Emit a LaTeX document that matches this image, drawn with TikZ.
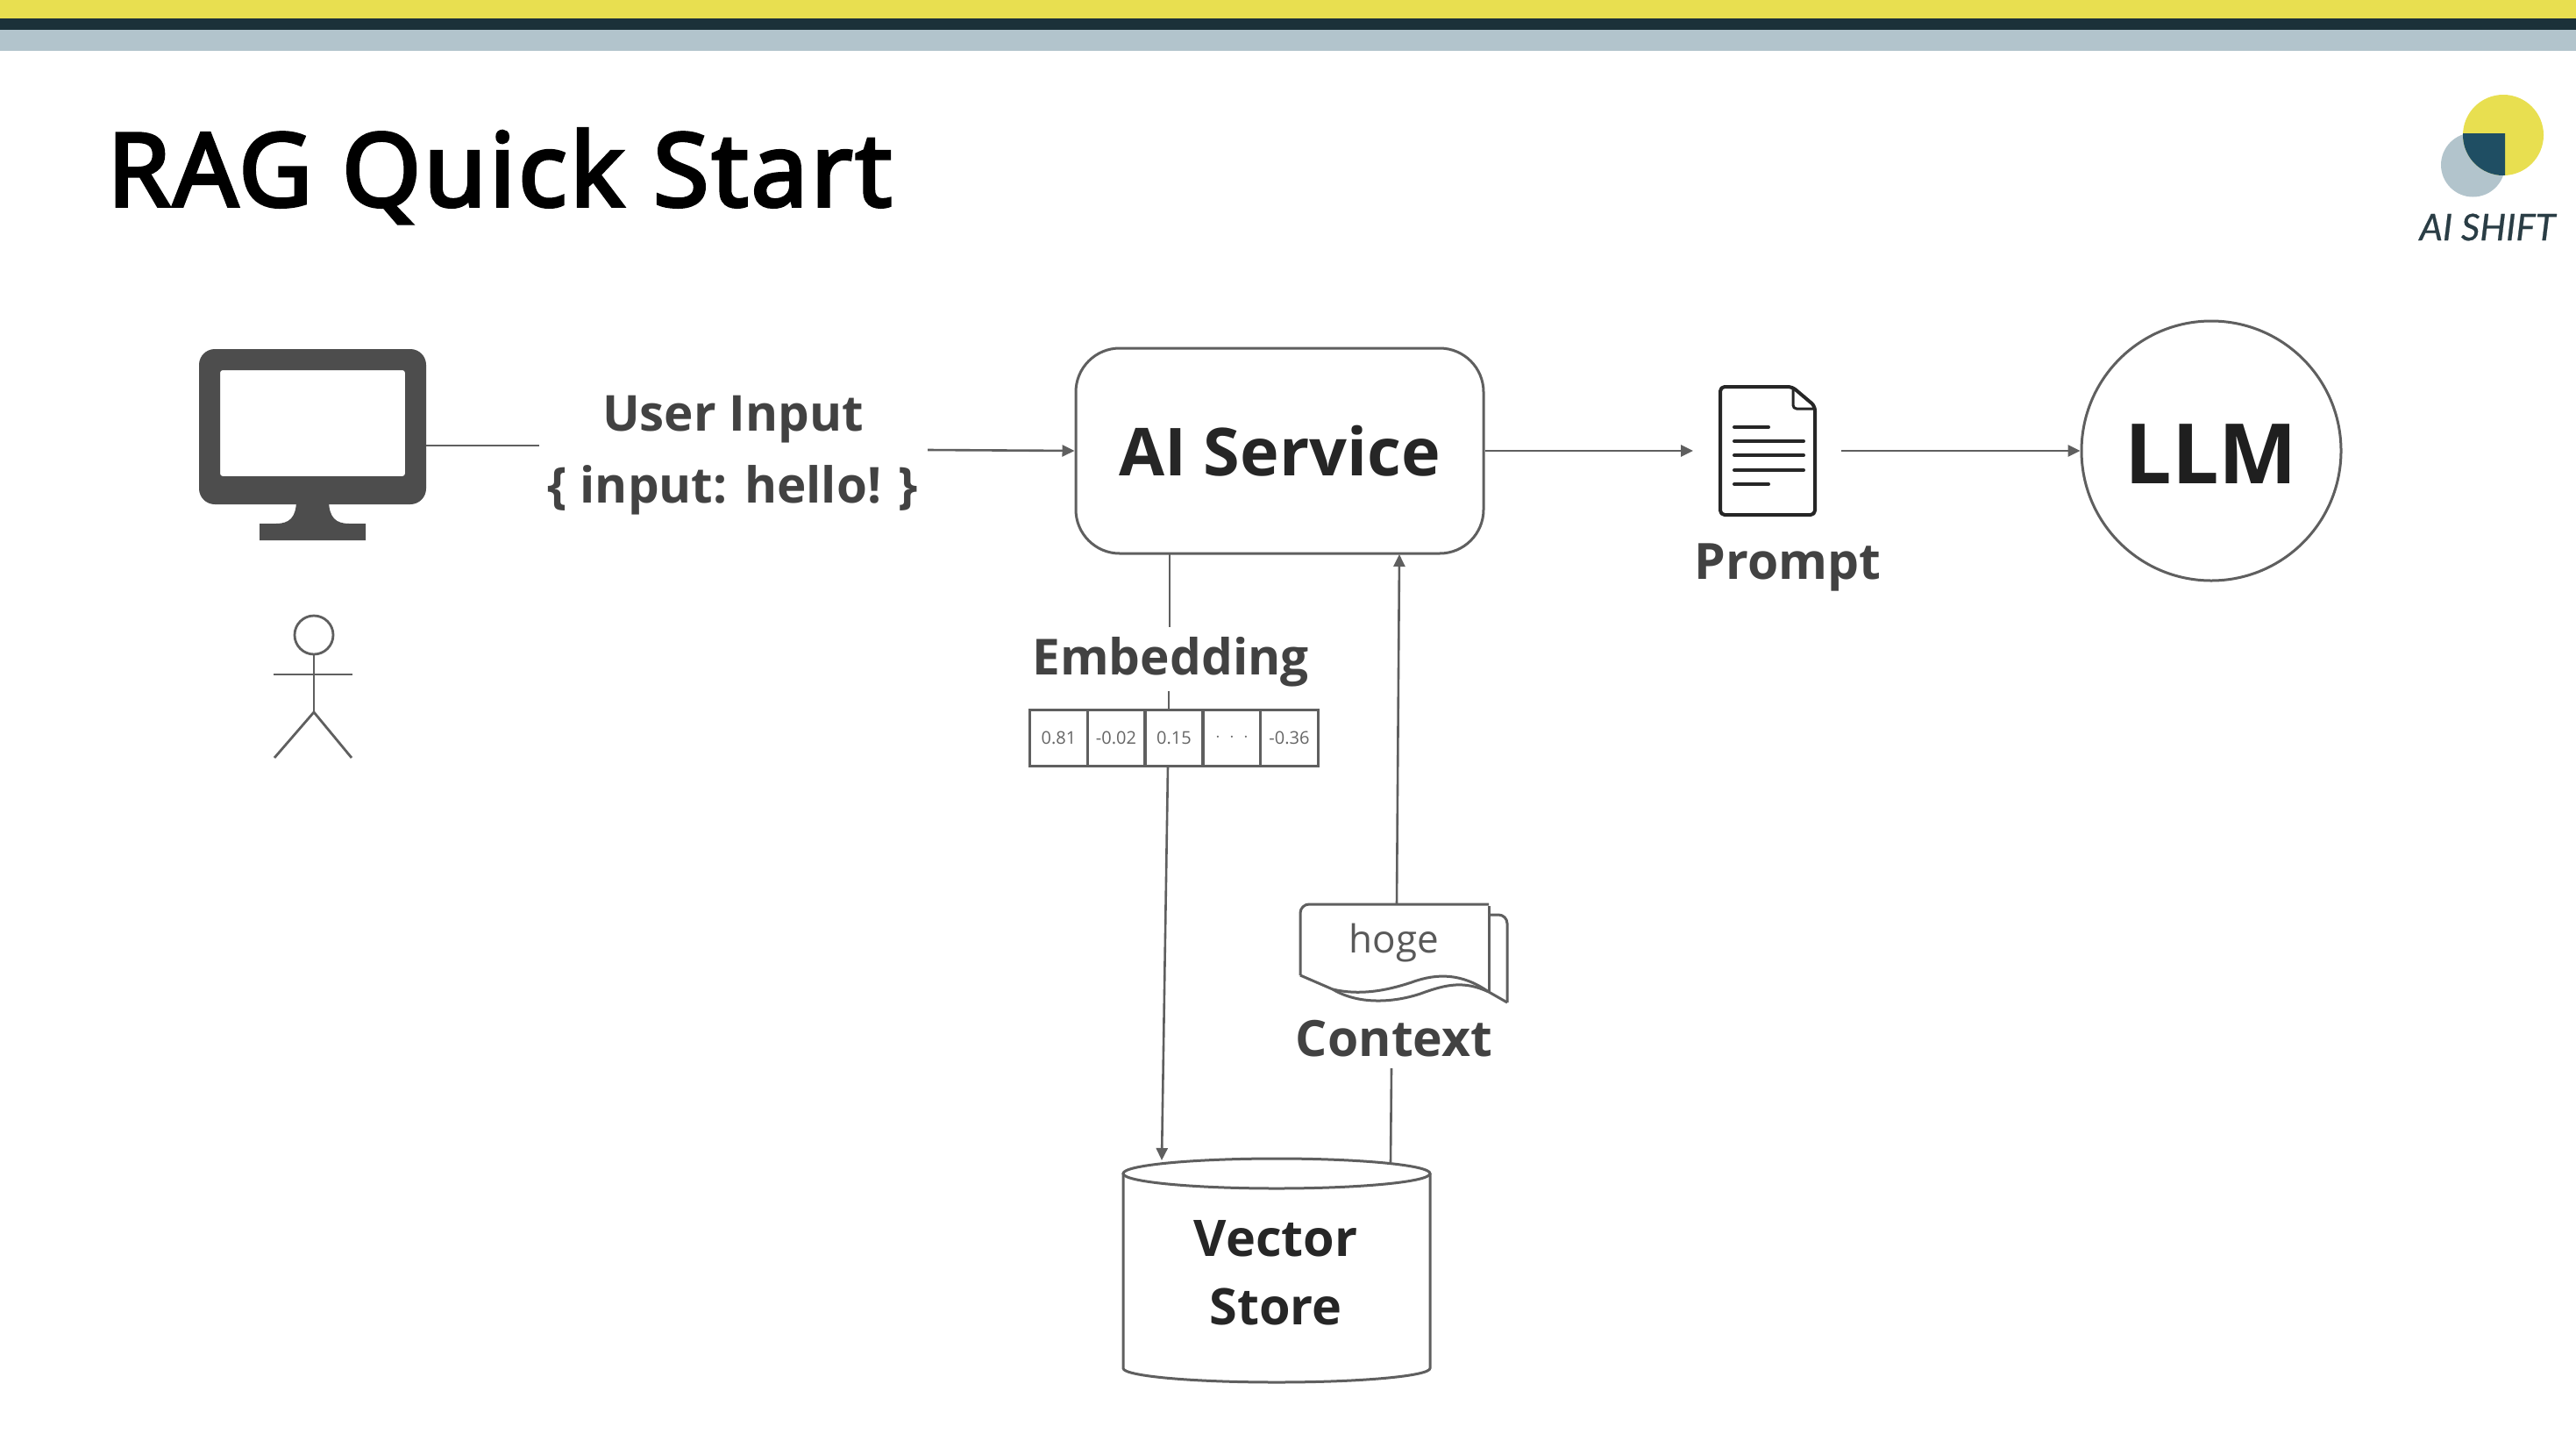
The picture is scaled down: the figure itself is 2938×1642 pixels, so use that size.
\documentclass[tikz,border=0pt]{standalone}
\usepackage{fontspec}
\setmainfont{Open Sans}
\newfontfamily\titlefont[FakeBold=3.2,LetterSpace=2.6]{Noto Sans}
\newfontfamily\logofont[FakeBold=0.6]{Lato}
\usetikzlibrary{arrows.meta}
\newcommand\fsz[2]{\fontsize{#1}{#2}\selectfont}
\definecolor{barY}{HTML}{E8DF50}
\definecolor{barD}{HTML}{1B3139}
\definecolor{barG}{HTML}{B2C4CC}
\definecolor{logoD}{HTML}{1F4E63}
\definecolor{logoT}{HTML}{2A3D45}
\definecolor{ink}{HTML}{4D4D4D}
\definecolor{wire}{HTML}{5F5F5F}
\tikzset{
  conn/.style={draw=wire,line width=2.6pt},
  arrowconn/.style={conn,-{Stealth[length=14pt,width=13pt,inset=0pt]}},
  shapeline/.style={draw=wire,line width=3pt},
  labelbig/.style={font=\bfseries\fsz{56.5}{82},text=ink!85!black,align=center,inner sep=0pt},
  cell/.style={draw=wire,line width=3pt,minimum width=65.6pt,minimum height=64pt,inner sep=0pt,font=\fsz{20}{22},text=black!60},
  ghost/.style={inner sep=0pt,outer sep=0pt}
}
\begin{document}
\begin{tikzpicture}[x=1pt,y=-1pt]
\useasboundingbox (0,0) rectangle (2938,1642);
\fill[white] (0,0) rectangle (2938,1642);
% top bars
\fill[barY] (0,0) rectangle (2938,21);
\fill[barD] (0,21) rectangle (2938,34);
\fill[barG] (0,34) rectangle (2938,58);
% title
\node[anchor=base west,inner sep=0pt,font=\titlefont\fsz{116}{116},text=black] (title) at (122,235) {RAG Quick Start};
% logo
\fill[barG] (2820.5,188) circle[radius=36.5];
\fill[barY] (2855,154) circle[radius=46];
\begin{scope}
  \clip (2800,152) rectangle (2857,205);
  \fill[logoD] (2855,154) circle[radius=46];
\end{scope}
\node[inner sep=0pt,font=\logofont\itshape\fsz{42}{42},text=logoT] (logo) at (2837,259) {AI SHIFT};
% monitor
\fill[ink,even odd rule,rounded corners=18pt] (227,398) rectangle (486,575)
  {[rounded corners=3pt] (251,422) rectangle (462,543)};
\fill[ink] (338,570) .. controls (338,590) and (330,597) .. (315,597) -- (296,597) -- (296,616) -- (417,616) -- (417,597) -- (398,597) .. controls (383,597) and (375,590) .. (375,570) -- cycle;
\node[ghost,minimum width=259pt,minimum height=177pt] (monitor) at (356.5,486.5) {};
% person
\node[draw=wire,line width=2.8pt,circle,minimum size=44pt,inner sep=0pt] (head) at (358,724) {};
\coordinate (hip) at (358,812);
\draw[conn,line width=2.8pt] (head.south) -- (hip);
\draw[conn,line width=2.8pt] (312,769) -- (402,769);
\draw[conn,line width=2.8pt] (313,864) -- (hip) -- (401,864);
% user input
\coordinate (inA) at (615,508);
\draw[conn] (monitor.east |- inA) -- (inA);
\node[labelbig] (input) at (836,519) {User Input\\\{ input: hello! \}};
\coordinate (inB) at (1058,513);
% ai service
\node[shapeline,rounded corners=50pt,minimum width=465pt,minimum height=234pt,inner sep=0pt,font=\bfseries\fsz{75.5}{75.5},text=black!85] (ai) at (1459.5,514) {AI Service};
\draw[arrowconn] (inB) -- (ai.west);
% prompt doc
\node[ghost,minimum width=108pt,minimum height=146pt] (doc) at (2016,514) {};
\draw[black!85,line width=4pt,line join=round,rounded corners=5pt] (1962,441) -- (2044,441) -- (2070,463) -- (2070,587) -- (1962,587) -- cycle;
\draw[black!85,line width=3pt,line join=round,rounded corners=4pt] (2045,441) -- (2045,466) -- (2070,466);
\draw[black!85,line width=4pt,line cap=round]
  (1978,487) -- (2017,487)
  (1978,503) -- (2057,503)
  (1978,519) -- (2057,519)
  (1978,536) -- (2057,536)
  (1978,552) -- (2017,552);
\node[inner sep=0pt,font=\bfseries\fsz{57}{57},text=ink!85!black] (prompt) at (2039,647) {Prompt};
\coordinate (toDoc) at (1931,514);
\coordinate (fromDoc) at (2100,514);
\draw[arrowconn] (ai.east) -- (toDoc);
% llm
\node[shapeline,circle,minimum size=296pt,inner sep=0pt,font=\bfseries\fsz{95}{95},text=black!88] (llm) at (2522,514) {\raisebox{-4pt}[\height][0pt]{LLM}};
\draw[arrowconn] (fromDoc) -- (llm.west);
% embedding
\node[inner sep=0pt,font=\bfseries\fsz{56.7}{56.7},text=ink!85!black] (emb) at (1335,755) {Embedding};
\node[cell] (c1) at (1207.5,841) {0.81};
\node[cell] (c2) at (1273,841) {-0.02};
\node[cell] (c3) at (1339,841) {0.15};
\node[cell] (c4) at (1405,841) {$\cdot\;\cdot\;\cdot$};
\node[cell] (c5) at (1470.5,841) {-0.36};
\coordinate (e1) at (1334,631);
\coordinate (e2) at (1334,715);
\coordinate (e3) at (1333,788);
\coordinate (e4) at (1333,809);
\coordinate (e5) at (1332,873);
% vector store
\draw[shapeline,fill=white] (1281,1338) -- (1281,1560) arc[start angle=180,end angle=0,x radius=175,y radius=16] -- (1631,1338);
\draw[shapeline,fill=white] (1456,1338) ellipse[x radius=175,y radius=17];
\node[inner sep=0pt,align=center,font=\bfseries\fsz{57.5}{78},text=black!85] (store) at (1455,1451) {Vector\\Store};
\coordinate (s1) at (1325,1323);
\coordinate (s2) at (1586,1325);
\draw[conn] (e1) -- (e2);
\draw[conn] (e3) -- (e4);
\draw[arrowconn] (e5) -- (s1);
% context document
\draw[shapeline,rounded corners=10pt] (1698,1043) -- (1719,1043) -- (1719,1143);
\draw[shapeline,line join=round] (1719,1143) -- (1698,1131);
\draw[shapeline] (1520,1128) .. controls (1550,1146) and (1590,1143) .. (1620,1133) .. controls (1650,1122) and (1670,1118) .. (1698,1131);
\draw[shapeline,rounded corners=10pt] (1483,1112) -- (1483,1031) -- (1698,1031);
\draw[shapeline] (1698,1033) -- (1698,1131);
\draw[shapeline] (1483,1112) -- (1520,1128) .. controls (1550,1135) and (1580,1130) .. (1610,1120) .. controls (1640,1109) and (1668,1110) .. (1698,1131);
\node[ghost,minimum width=215pt,minimum height=81pt] (hogeshape) at (1590.5,1071.5) {};
\node[inner sep=0pt,font=\fsz{44}{44},text=black!65] (hoge) at (1590,1075) {hoge};
\node[inner sep=0pt,font=\bfseries\fsz{57}{57},text=ink!85!black] (context) at (1590,1184) {Context};
\coordinate (k1) at (1587,1218);
\coordinate (k2) at (1593,1031);
\coordinate (k3) at (1596,632);
\draw[conn] (s2) -- (k1);
\draw[arrowconn] (k2) -- (k3);
\end{tikzpicture}
\end{document}
